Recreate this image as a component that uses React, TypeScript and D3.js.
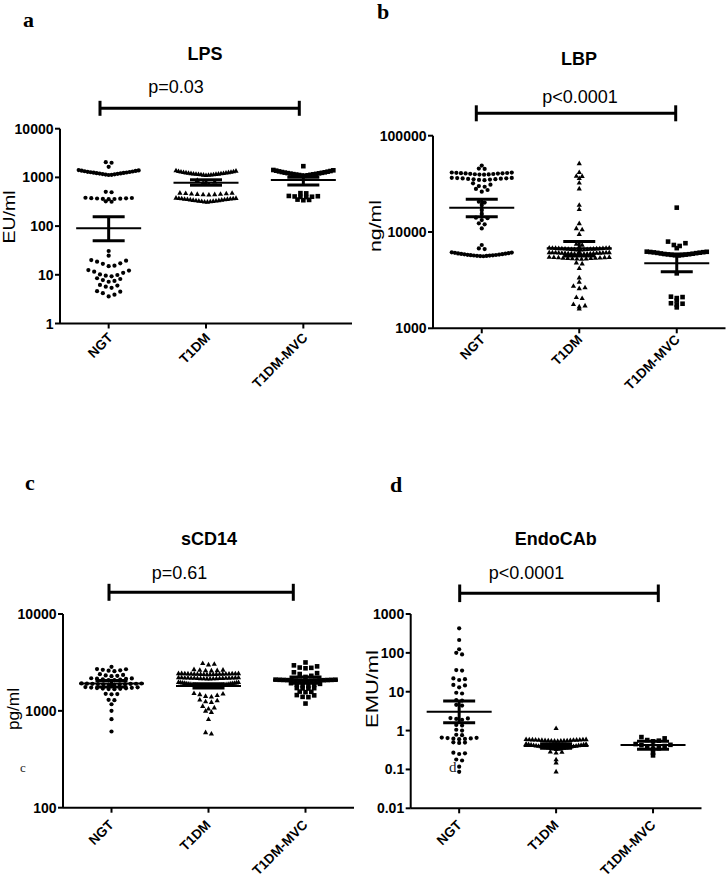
import React from 'react';
import * as d3 from 'd3';

const categories = ['NGT', 'T1DM', 'T1DM-MVC'];

// ---------- LPS (EU/ml) ----------
const lpsNGT = [2050, 2000, 1650,
  1120, 1131, 1144, 1158, 1171, 1183, 1196, 1208, 1222, 1236, 1249, 1262, 1276, 1291, 1304, 1321, 1338, 1356, 1372, 1391, 1415,
  505, 495, 382, 378, 375, 371, 369, 366, 362, 360, 357, 322, 316,
  30.8, 24.7, 20.1, 19.5, 18.6, 17.2, 16.8, 15.4, 15.0, 12.5, 12.2, 11.6, 11.0, 10.2, 9.9, 9.6, 9.3,
  8.5, 8.2, 7.8, 7.5, 7.2, 6.2, 6.0, 5.7, 5.4, 4.6, 4.5, 4.2, 3.9, 3.6];
const lpsT1DM = [1110, 1117, 1126, 1134, 1143, 1150, 1159, 1167, 1176, 1183, 1192, 1201, 1211, 1219, 1231, 1242, 1254, 1266, 1277, 1291, 1304, 1321, 1339, 1361, 1385,
  880, 820, 771, 722,
  482, 477, 471, 467, 462, 457, 453, 449, 446, 441,
  314, 317, 321, 323, 326, 330, 332, 336, 338, 342, 345, 349, 352, 355, 358, 361, 364, 368, 370, 373, 376, 379];
const lpsMVC = [1700,
  1080, 1093, 1104, 1119, 1131, 1142, 1156, 1167, 1181, 1194, 1211, 1224, 1241, 1254, 1272, 1289, 1311, 1329, 1352, 1374, 1398, 1420,
  475, 470, 416, 411, 406, 401, 397, 393, 350, 345, 340];
const lpsMean = [90, 778, 885];
const lpsSemHi = [156, 893, 1005];
const lpsSemLo = [50, 692, 698];
const lpsTicks = [1, 10, 100, 1000, 10000];

// ---------- LBP (ng/ml) ----------
const lbpNGT = [48900, 45600, 45200,
  39400, 39600, 39800, 40000, 40200, 40400, 40600, 40800, 41000, 41200, 41400, 41500, 39500, 40700,
  34500, 34700, 35000, 35200, 35400, 35600, 35800, 36000, 36100, 36300, 36400, 36500,
  32000, 31000, 30000, 29500, 28000, 27300, 26200,
  20600, 20200, 19100, 16900, 15400, 14100, 13900, 13300, 12300, 12000, 10900,
  7330, 6750, 6650,
  5600, 5620, 5645, 5660, 5685, 5700, 5725, 5740, 5770, 5800, 5830, 5865, 5890, 5925, 5950, 5990, 6030, 6075, 6110, 6150];
const lbpT1DM = [51600, 41700, 38200, 38000, 36100, 32500, 28200,
  19100, 17200, 12300, 10900, 10600, 9500,
  7500, 7350,
  6550, 6565, 6580, 6600, 6615, 6630, 6650, 6665, 6680, 6700, 6715, 6730, 6750, 6765, 6780, 6800, 6815, 6830, 6840, 6850,
  5900, 5915, 5925, 5940, 5955, 5970, 5985, 6000, 6015, 6030, 6045, 6060, 6075, 6090, 6100, 6115, 6125, 6135, 6145, 6150,
  5250, 5270, 5290, 5310, 5330, 5350, 5370, 5390, 5410, 5430, 5450, 5470, 5485, 5500,
  4810, 4700, 4200, 3360, 3030, 2750, 2650, 2600, 2100, 2050, 1780, 1720, 1680, 1600];
const lbpMVC = [17900, 7950, 7650, 7330, 7160, 6800,
  5700, 5730, 5760, 5790, 5820, 5850, 5880, 5910, 5950, 5990, 6030, 6070, 6100, 6140, 6170, 6200, 6230, 6250,
  3720, 2130, 2110, 2060, 1940, 1820, 1800, 1760, 1650];
const lbpMean = [17870, 6770, 4730];
const lbpSemHi = [21900, 7950, 5900];
const lbpSemLo = [14400, 5650, 3870];
const lbpTicks = [1000, 10000, 100000];

// ---------- sCD14 (pg/ml) ----------
const cdNGT = [2850,
  2700, 2690, 2650, 2620, 2600, 2570,
  2390, 2350, 2320, 2300, 2280,
  2170, 2160, 2150, 2140, 2120, 2100, 2080, 2075,
  1920, 1915, 1910, 1905, 1900, 1895, 1890, 1885, 1880, 1875, 1868, 1860,
  1760, 1750, 1740, 1730, 1720, 1710, 1700, 1690, 1680, 1675,
  1500, 1490, 1480, 1300, 1290, 1170, 1000, 820, 612];
const cdT1DM = [3100, 3050, 3000,
  2680, 2650, 2640, 2620, 2610, 2600,
  2380, 2383, 2386, 2390, 2393, 2396, 2400, 2403, 2406, 2410, 2413, 2416, 2420, 2423, 2426, 2430, 2433, 2436, 2438, 2440,
  2150, 2153, 2156, 2160, 2163, 2166, 2170, 2173, 2176, 2180, 2183, 2186, 2190, 2193, 2196, 2200, 2203, 2206, 2208, 2210,
  1760, 1768, 1775, 1782, 1790, 1797, 1805, 1812, 1820, 1827, 1835, 1843, 1850, 1858, 1865, 1872, 1880, 1888, 1895, 1903,
  1910, 1918, 1925, 1933, 1940, 1948, 1955, 1963, 1972, 1980,
  1520, 1500, 1480, 1450, 1420, 1400,
  1300, 1280, 1250, 1230,
  1120, 1080, 1050, 1000, 970,
  820, 600, 580];
const cdMVC = [3160,
  2950, 2880, 2800, 2780, 2750,
  2500, 2450, 2400, 2300, 2240,
  2040, 2044, 2048, 2052, 2056, 2060, 2064, 2068, 2072, 2076, 2080, 2084, 2088, 2092, 2096, 2100,
  1930, 1900, 1870, 1850, 1830, 1810,
  1720, 1715, 1705, 1700,
  1580, 1570, 1560,
  1455, 1445, 1395, 1385,
  1190];
const cdMean = [1918, 1810, 2075];
const cdSemHi = [2060, 1900, 2230];
const cdSemLo = [1760, 1720, 1930];
const cdTicks = [100, 1000, 10000];

// ---------- EndoCAb (EMU/ml) ----------
const endoNGT = [429, 214, 124, 100, 91, 36, 35, 22, 21, 20, 15, 14.5, 13, 9.4, 9.0, 6.1, 5.9, 4.6, 4.4,
  2.1, 2.05, 2.0, 1.9, 1.4, 1.35, 1.05, 1.0, 0.78, 0.76,
  0.66, 0.65, 0.64, 0.63, 0.62, 0.61, 0.60,
  0.50, 0.49, 0.48, 0.27, 0.26, 0.25, 0.18, 0.17, 0.118, 0.087];
const endoT1DM = [1.15,
  0.540, 0.543, 0.546, 0.549, 0.552, 0.555, 0.558, 0.561, 0.564, 0.567, 0.570, 0.573, 0.576, 0.579, 0.582, 0.585, 0.588, 0.591, 0.595, 0.600,
  0.330, 0.335, 0.340, 0.345, 0.350, 0.355, 0.360, 0.365, 0.370, 0.375, 0.380, 0.385, 0.390, 0.395, 0.400, 0.405, 0.410, 0.415, 0.420, 0.425, 0.430, 0.438, 0.445, 0.452, 0.460,
  0.285, 0.28, 0.27, 0.18, 0.15, 0.088];
const endoMVC = [0.68, 0.63, 0.57, 0.55, 0.53, 0.45, 0.43, 0.42, 0.40, 0.38, 0.35, 0.34, 0.27, 0.23];
const endoMean = [3.06, 0.40, 0.425];
const endoSemHi = [5.76, 0.46, 0.53];
const endoSemLo = [1.6, 0.35, 0.33];
const endoTicks = [0.01, 0.1, 1, 10, 100, 1000];

const SANS = '"Liberation Sans", Arial, Helvetica, sans-serif';
const SERIF = '"Liberation Serif", "Times New Roman", Times, serif';

type PanelCfg = {
  key: string;
  letter: string; letterX: number; letterY: number;
  title: string; titleX: number; titleY: number;
  pText: string; pX: number; pY: number;
  brY: number; brX0: number; brX1: number; brH: number;
  x0: number; x1: number; yTop: number; yBot: number;
  ticks: number[];
  groups: number[][]; mean: number[]; semHi: number[]; semLo: number[];
  yLabel: string; yLabelX: number; yLabelY: number; yLabelLen: number;
  xlDx: number; xlDy: number;
  clip?: boolean;
};

const panels: PanelCfg[] = [
  {
    key: 'a', letter: 'a', letterX: 23, letterY: 27,
    title: 'LPS', titleX: 205, titleY: 60,
    pText: 'p=0.03', pX: 176, pY: 93.3,
    brY: 108.3, brX0: 100, brX1: 299.3, brH: 7.5,
    x0: 60, x1: 352, yTop: 128.7, yBot: 323.5,
    ticks: lpsTicks, groups: [lpsNGT, lpsT1DM, lpsMVC], mean: lpsMean, semHi: lpsSemHi, semLo: lpsSemLo,
    yLabel: 'EU/ml', yLabelX: 15, yLabelY: 217, yLabelLen: 53,
    xlDx: 5, xlDy: 15, clip: true,
  },
  {
    key: 'b', letter: 'b', letterX: 377, letterY: 19,
    title: 'LBP', titleX: 579, titleY: 65,
    pText: 'p<0.0001', pX: 580, pY: 103.3,
    brY: 113.3, brX0: 476.3, brX1: 675.7, brH: 8,
    x0: 433, x1: 725.5, yTop: 135.7, yBot: 328.3,
    ticks: lbpTicks, groups: [lbpNGT, lbpT1DM, lbpMVC], mean: lbpMean, semHi: lbpSemHi, semLo: lbpSemLo,
    yLabel: 'ng/ml', yLabelX: 381, yLabelY: 226, yLabelLen: 52,
    xlDx: 4, xlDy: 12, clip: true,
  },
  {
    key: 'c', letter: 'c', letterX: 25, letterY: 490,
    title: 'sCD14', titleX: 209, titleY: 545,
    pText: 'p=0.61', pX: 179.5, pY: 579.3,
    brY: 592.3, brX0: 109, brX1: 293.3, brH: 8.5,
    x0: 63, x1: 354, yTop: 614, yBot: 807.7,
    ticks: cdTicks, groups: [cdNGT, cdT1DM, cdMVC], mean: cdMean, semHi: cdSemHi, semLo: cdSemLo,
    yLabel: 'pg/ml', yLabelX: 19, yLabelY: 709, yLabelLen: 42,
    xlDx: 3, xlDy: 18,
  },
  {
    key: 'd', letter: 'd', letterX: 390, letterY: 491.7,
    title: 'EndoCAb', titleX: 555.7, titleY: 545,
    pText: 'p<0.0001', pX: 526.5, pY: 579.3,
    brY: 593.3, brX0: 459.7, brX1: 658.3, brH: 8.8,
    x0: 410.7, x1: 701.5, yTop: 614, yBot: 808.3,
    ticks: endoTicks, groups: [endoNGT, endoT1DM, endoMVC], mean: endoMean, semHi: endoSemHi, semLo: endoSemLo,
    yLabel: 'EMU/ml', yLabelX: 378, yLabelY: 689, yLabelLen: 78,
    xlDx: 3.3, xlDy: 17.5,
  },
];

const GAP = 2;
const SPAN = 6.5;
const MAXSTEP = 5.8;
const MAXW = 60;

function layoutRows(values: number[], y: (v: number) => number, cx: number) {
  const pts = values.map((v) => ({ v, y: y(v) })).sort((a, b) => a.y - b.y);
  const rows: { v: number; y: number }[][] = [];
  let cur: { v: number; y: number }[] = [];
  let start = 0;
  let prev = 0;
  for (const p of pts) {
    if (cur.length && (p.y - prev > GAP || p.y - start > SPAN)) {
      rows.push(cur);
      cur = [];
    }
    if (!cur.length) start = p.y;
    cur.push(p);
    prev = p.y;
  }
  if (cur.length) rows.push(cur);
  const out: { x: number; y: number }[] = [];
  for (const row of rows) {
    const n = row.length;
    const step = n > 1 ? Math.min(MAXSTEP, MAXW / (n - 1)) : 0;
    const slots = d3.range(n).map((k) => (k - (n - 1) / 2) * step)
      .sort((a, b) => Math.abs(a) - Math.abs(b) || b - a);
    const byVal = row.slice().sort((a, b) => a.v - b.v);
    byVal.forEach((p, i) => out.push({ x: cx + slots[i], y: p.y }));
  }
  return out;
}

function fmt(v: number) {
  return v < 1 ? String(v) : d3.format('d')(v);
}

function Marker({ kind, x, y }: { kind: number; x: number; y: number }) {
  if (kind === 0) return <circle cx={x} cy={y} r={2.1} fill="#000" />;
  if (kind === 1) return <path d={`M${x},${y - 2.8}L${x + 2.6},${y + 1.8}L${x - 2.6},${y + 1.8}Z`} fill="#000" />;
  return <rect x={x - 2.3} y={y - 2.3} width={4.6} height={4.6} fill="#000" />;
}

function Panel({ p }: { p: PanelCfg }) {
  const y = d3.scaleLog().domain([p.ticks[0], p.ticks[p.ticks.length - 1]]).range([p.yBot, p.yTop]);
  const x = d3.scalePoint<string>().domain(categories).range([p.x0, p.x1]).padding(0.5);
  const content = (
    <g>
      <text x={p.letterX} y={p.letterY} fontFamily={SERIF} fontWeight="bold" fontSize={22} fill="#000">{p.letter}</text>
      <text x={p.titleX} y={p.titleY} textAnchor="middle" fontFamily={SANS} fontWeight="bold" fontSize={18} fill="#000">{p.title}</text>
      <text x={p.pX} y={p.pY} textAnchor="middle" fontFamily={SANS} fontSize={18} fill="#000">{p.pText}</text>
      <line x1={p.brX0} x2={p.brX1} y1={p.brY} y2={p.brY} stroke="#000" strokeWidth={3} />
      <line x1={p.brX0} x2={p.brX0} y1={p.brY - p.brH} y2={p.brY + p.brH} stroke="#000" strokeWidth={3} />
      <line x1={p.brX1} x2={p.brX1} y1={p.brY - p.brH} y2={p.brY + p.brH} stroke="#000" strokeWidth={3} />
      <line x1={p.x0} x2={p.x0} y1={p.yTop} y2={p.yBot} stroke="#000" strokeWidth={2} />
      {p.ticks.map((t) => (
        <g key={t}>
          <line x1={p.x0 - 5} x2={p.x0} y1={y(t)} y2={y(t)} stroke="#000" strokeWidth={2} />
          <text x={p.x0 - 6.5} y={y(t)} dy="0.36em" textAnchor="end" fontFamily={SANS} fontWeight="bold" fontSize={14} fill="#000">{fmt(t)}</text>
        </g>
      ))}
      <line x1={p.x0} x2={p.x1} y1={p.yBot} y2={p.yBot} stroke="#000" strokeWidth={2} />
      {categories.map((c) => (
        <g key={c}>
          <line x1={x(c)!} x2={x(c)!} y1={p.yBot} y2={p.yBot + 5} stroke="#000" strokeWidth={2} />
          <text transform={`translate(${x(c)! + p.xlDx},${p.yBot + p.xlDy}) rotate(-45)`} textAnchor="end"
            fontFamily={SANS} fontWeight="bold" fontSize={13.5} fill="#000">{c}</text>
        </g>
      ))}
      <text transform={`translate(${p.yLabelX},${p.yLabelY}) rotate(-90)`} textAnchor="middle" fontFamily={SANS}
        fontSize={17} textLength={p.yLabelLen} lengthAdjust="spacingAndGlyphs" fill="#000">{p.yLabel}</text>
      {p.groups.map((vals, gi) => {
        const cx = x(categories[gi])!;
        return layoutRows(vals, y, cx).map((pt, i) => <Marker key={`${gi}-${i}`} kind={gi} x={pt.x} y={pt.y} />);
      })}
      {categories.map((c, gi) => {
        const cx = x(c)!;
        return (
          <g key={`e${gi}`}>
            <line x1={cx} x2={cx} y1={y(p.semHi[gi])} y2={y(p.semLo[gi])} stroke="#000" strokeWidth={3} />
            <line x1={cx - 16} x2={cx + 16} y1={y(p.semHi[gi])} y2={y(p.semHi[gi])} stroke="#000" strokeWidth={3} />
            <line x1={cx - 16} x2={cx + 16} y1={y(p.semLo[gi])} y2={y(p.semLo[gi])} stroke="#000" strokeWidth={3} />
            <line x1={cx - 32.5} x2={cx + 32.5} y1={y(p.mean[gi])} y2={y(p.mean[gi])} stroke="#000" strokeWidth={2} />
          </g>
        );
      })}
    </g>
  );
  return p.clip ? <g clipPath="url(#clipTop)">{content}</g> : content;
}

export default function App() {
  return (
    <svg width={728} height={880} viewBox="0 0 728 880" style={{ position: 'absolute', left: 0, top: 0, background: '#fff' }}>
      <defs>
        <clipPath id="clipTop">
          <rect x={0} y={0} width={728} height={394} />
        </clipPath>
      </defs>
      <rect x={0} y={0} width={728} height={880} fill="#fff" />
      {panels.map((p) => <Panel key={p.key} p={p} />)}
      <text x={20} y={772} fontFamily={SERIF} fontSize={13} fill="#222">c</text>
      <text x={449} y={772} fontFamily={SERIF} fontSize={15} fill="#222">d</text>
    </svg>
  );
}
